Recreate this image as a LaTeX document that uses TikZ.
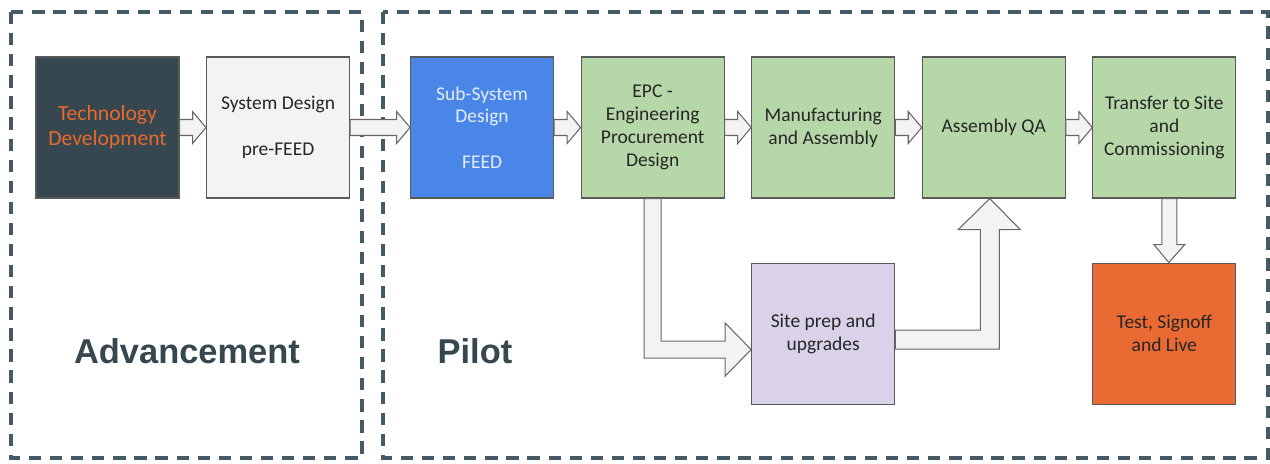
\documentclass[tikz,border=0pt]{standalone}
\usepackage{fontspec}
\setmainfont{Carlito}
\newfontfamily\phasefont{Liberation Sans}
\usepackage{xcolor}
\usepackage{tikz}
\usetikzlibrary{positioning, calc}
\definecolor{pvSlate}{HTML}{37474F}
\definecolor{pvOrange}{HTML}{E8692E}
\definecolor{pvPale}{HTML}{F3F3F3}
\definecolor{pvBlue}{HTML}{4A86E8}
\definecolor{pvBlueText}{HTML}{E3ECFA}
\definecolor{pvGreen}{HTML}{B6D7A8}
\definecolor{pvLilac}{HTML}{D9D2E9}
\definecolor{pvRed}{HTML}{E96A33}
\definecolor{pvFrame}{HTML}{455A64}
\definecolor{pvEdge}{HTML}{666666}
\tikzset{
  stage/.style={draw=black!65, line width=0.6pt, align=center, inner sep=2pt,
                minimum width=2.86cm, minimum height=2.82cm, text=black!85,
                font=\fontsize{11.1}{13}\selectfont},
  flowarr/.style={draw=pvEdge, fill=pvPale, line width=0.6pt, line join=miter},
  phaseframe/.style={draw=pvFrame, line width=2pt, dash pattern=on 7pt off 5pt},
  phaselabel/.style={font=\phasefont\bfseries\fontsize{19.6}{22}\selectfont,
                     text=pvSlate, inner sep=0pt},
}
% straight block arrow between two boxes of one row
\newcommand{\flowarrow}[2]{%
  \draw[flowarr] let \p1=(#1.east), \p2=(#2.west) in
    (\x1,\y1+0.16cm) -- (\x2-0.27cm,\y1+0.16cm) -- (\x2-0.27cm,\y1+0.32cm)
    -- (\x2,\y1) -- (\x2-0.27cm,\y1-0.32cm) -- (\x2-0.27cm,\y1-0.16cm)
    -- (\x1,\y1-0.16cm) -- cycle;}

\begin{document}
\begin{tikzpicture}
\useasboundingbox (0,0) rectangle (25.4,-9.26);

% phases
\draw[phaseframe] (0.22,-0.24) rectangle (7.24,-9.16);
\draw[phaseframe] (7.66,-0.24) rectangle (25.36,-9.16);
\node[phaselabel, anchor=base] (advlbl) at (3.74,-7.26) {Advancement};
\node[phaselabel, anchor=base] (pilotlbl) at (9.5,-7.26) {Pilot};

% top row
\node[stage, fill=pvSlate, text=pvOrange, font=\fontsize{12.3}{14.2}\selectfont] (tech) at (2.15,-2.55) {Technology\\Development};
\node[stage, fill=pvPale, right=0.53cm of tech] (sysd) {System Design\\[13pt]pre-FEED};
\node[stage, fill=pvBlue, text=pvBlueText, right=1.2cm of sysd] (subsys) {Sub-System\\Design\\[13pt]FEED};
\node[stage, fill=pvGreen, right=0.53cm of subsys] (epc) {EPC -\\Engineering\\Procurement\\Design};
\node[stage, fill=pvGreen, right=0.53cm of epc] (manuf) {Manufacturing\\and Assembly};
\node[stage, fill=pvGreen, right=0.53cm of manuf] (asmqa) {Assembly QA};
\node[stage, fill=pvGreen, right=0.53cm of asmqa] (xfer) {Transfer to Site\\and\\Commissioning};

% bottom row
\node[stage, fill=pvLilac, below=1.28cm of manuf] (site) {Site prep and\\upgrades};
\node[stage, fill=pvRed, below=1.28cm of xfer] (golive) {Test, Signoff\\and Live};

\flowarrow{tech}{sysd}
\flowarrow{sysd}{subsys}
\flowarrow{subsys}{epc}
\flowarrow{epc}{manuf}
\flowarrow{manuf}{asmqa}
\flowarrow{asmqa}{xfer}

\draw[flowarr] let \p1=(epc.south), \p2=(site.west) in
  (\x1-0.17cm,\y1) |- (\x2-0.52cm,\y2-0.49cm) -- (\x2-0.52cm,\y2-0.85cm)
  -- (\x2,\y2-0.32cm) -- (\x2-0.52cm,\y2+0.21cm) -- (\x2-0.52cm,\y2-0.15cm)
  -| (\x1+0.17cm,\y1) -- cycle;
\draw[flowarr] let \p1=(site.east), \p2=(asmqa.south) in
  (\x1,\y1+0.07cm) -| (\x2-0.27cm,\y2-0.62cm) -- (\x2-0.71cm,\y2-0.62cm)
  -- (\x2-0.08cm,\y2) -- (\x2+0.53cm,\y2-0.62cm) -- (\x2+0.11cm,\y2-0.62cm)
  |- (\x1,\y1-0.31cm) -- cycle;
\draw[flowarr] let \p1=(xfer.south), \p2=(golive.north) in
  (\x1-0.05cm,\y1) -- (\x1-0.05cm,\y2+0.36cm) -- (\x1-0.21cm,\y2+0.36cm)
  -- (\x1+0.09cm,\y2) -- (\x1+0.41cm,\y2+0.36cm) -- (\x1+0.25cm,\y2+0.36cm)
  -- (\x1+0.25cm,\y1) -- cycle;
\end{tikzpicture}
\end{document}
